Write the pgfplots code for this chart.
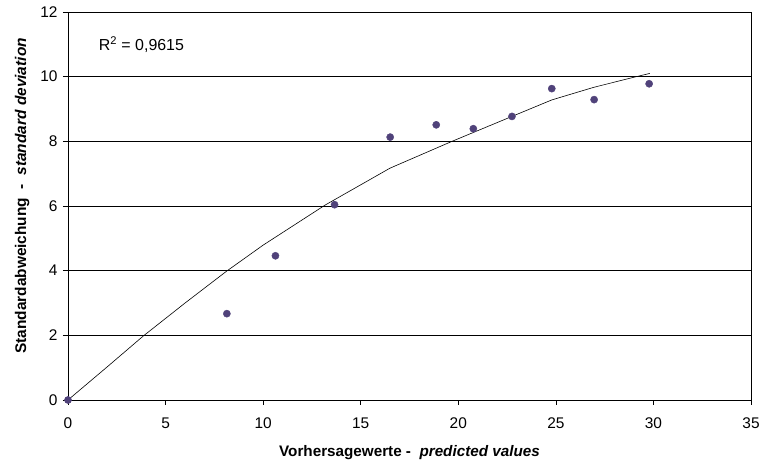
\documentclass[border=0pt]{standalone}
\usepackage{pgfplots}
\pgfplotsset{compat=1.18}
\usepackage{fontspec}
\setmainfont{Liberation Sans}
\definecolor{markpurple}{RGB}{80,66,122}

\begin{document}
\begin{tikzpicture}[x=1bp,y=1bp]
% canvas 761 x 461
\path[use as bounding box] (0,0) rectangle (761,461);
\begin{axis}[
    at={(68bp,61bp)}, anchor=south west,
    width=683bp, height=388bp,
    scale only axis,
    xmin=0, xmax=35, ymin=0, ymax=12,
    xtick={0,5,...,35}, ytick={0,2,...,12},
    xtick pos=bottom, ytick pos=left,
    tick align=outside,
    major tick length=5bp,
    tick style={black, line width=0.6pt},
    ymajorgrids, major grid style={black, line width=0.6pt},
    axis line style={black, line width=0.8pt},
    tick label style={font=\fontsize{15.5}{18}\selectfont},
    /pgf/number format/assume math mode=true,
    xticklabel style={yshift=-9bp},
    yticklabel style={xshift=-2bp},
    xlabel={\bfseries Vorhersagewerte -\ \ \itshape predicted values},
    ylabel={\bfseries Standardabweichung \ - \ \itshape standard deviation},
    xlabel style={font=\fontsize{15.3}{18}\selectfont, yshift=-10bp},
    ylabel style={font=\fontsize{15.5}{18}\selectfont, yshift=4bp, xshift=10bp},
    clip=false,
]
% trend line
\addplot[black, line width=0.6pt] coordinates {
    (0,0) (2,1.02) (3.86,1.98) (6,3.0) (8.14,3.99) (10,4.79) (13.18,6.03)
    (16.5,7.17) (19.68,8.0) (22.75,8.77) (24.79,9.28) (26.94,9.67) (28.99,9.98) (29.81,10.1)
};
% data points
\addplot[only marks, mark=*, mark size=3.6bp, color=markpurple, draw=markpurple] coordinates {
    (0,0) (8.14,2.67) (10.63,4.46) (13.66,6.04) (16.51,8.13) (18.87,8.51)
    (20.77,8.39) (22.75,8.77) (24.79,9.63) (26.96,9.29) (29.78,9.78)
};
\node[anchor=west, font=\fontsize{16}{18}\selectfont] at (axis cs:1.4,11.0) {R\textsuperscript{2} = 0,9615};
\end{axis}
\end{tikzpicture}
\end{document}
